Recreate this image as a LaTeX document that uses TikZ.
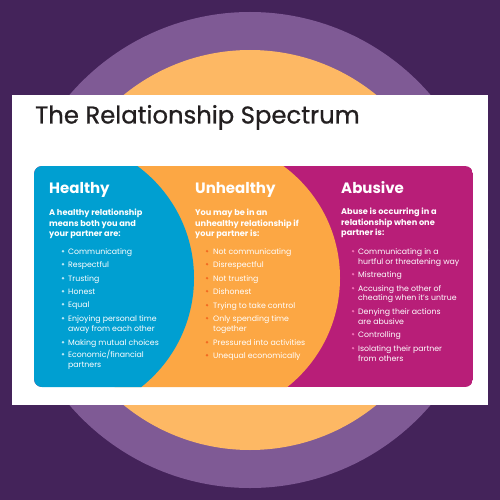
\documentclass[tikz,border=0pt]{standalone}
\usepackage{fontspec}
\setmainfont{Poppins}
\newfontfamily\titlefont[FakeBold=0.8]{Poppins}
\definecolor{bgdark}{HTML}{44235A}
\definecolor{ringpurple}{HTML}{7F5A95}
\definecolor{ringorange}{HTML}{FDB864}
\definecolor{hblue}{HTML}{009FD1}
\definecolor{uorange}{HTML}{FCA744}
\definecolor{amag}{HTML}{B81E78}
\definecolor{bhealthy}{HTML}{B8E6F6}
\definecolor{bunhealthy}{HTML}{F26A21}
\definecolor{babusive}{HTML}{F06EB4}
\definecolor{titleink}{HTML}{231F20}
\tikzset{
  heading/.style={anchor=base west, inner sep=0pt, text=white, font=\fontsize{15}{18}\selectfont\bfseries},
  lead/.style={anchor=base west, inner sep=0pt, text=white, font=\fontsize{8.2}{10}\selectfont\bfseries},
  item/.style={anchor=base west, inner sep=0pt, text=white, font=\fontsize{7.8}{10}\selectfont},
}
\begin{document}
\begin{tikzpicture}[x=1pt,y=-1pt]
\useasboundingbox (0,0) rectangle (500,500);
\fill[bgdark] (0,0) rectangle (500,500);
\fill[ringpurple] (250,250) circle[radius=238];
\fill[ringorange] (250,250) circle[radius=200];
\fill[white] (12,95) rectangle (488,405);
\node[anchor=base west, inner sep=0pt, text=titleink, font=\titlefont\fontsize{24.3}{28}\selectfont] (title) at (35,123.5) {The Relationship Spectrum};
% spectrum box
\begin{scope}
\clip[rounded corners=8pt] (34,166) rectangle (473,387);
\fill[amag] (34,166) rectangle (473,387);
\fill[uorange] (201,278) circle[radius=139];
\fill[hblue] (55,278) circle[radius=139];
\end{scope}
% Healthy
\node[heading] (hh) at (49,193) {Healthy};
\node[lead] (hl1) at (49,215.5) {A healthy relationship};
\node[lead] (hl2) at (49,226.2) {means both you and};
\node[lead] (hl3) at (49,236.9) {your partner are:};
\foreach \yy in {254,267,281,294,307,321,345,357}{\fill[bhealthy] (63,\yy-2.8) circle[radius=1.3];}
\node[item] (h1) at (68,254) {Communicating};
\node[item] (h2) at (68,267) {Respectful};
\node[item] (h3) at (68,281) {Trusting};
\node[item] (h4) at (68,294) {Honest};
\node[item] (h5) at (68,307) {Equal};
\node[item] (h6) at (68,321) {Enjoying personal time};
\node[item] (h6b) at (68,331) {away from each other};
\node[item] (h7) at (68,345) {Making mutual choices};
\node[item] (h8) at (68,357) {Economic/financial};
\node[item] (h8b) at (68,367) {partners};
% Unhealthy
\node[heading] (uh) at (195,193) {Unhealthy};
\node[lead] (ul1) at (195,215.5) {You may be in an};
\node[lead] (ul2) at (195,226.2) {unhealthy relationship if};
\node[lead] (ul3) at (195,236.9) {your partner is:};
\foreach \yy in {254,267,281,294,308,321,345,358}{\fill[bunhealthy] (207,\yy-2.8) circle[radius=1.3];}
\node[item] (u1) at (213,254) {Not communicating};
\node[item] (u2) at (213,267) {Disrespectful};
\node[item] (u3) at (213,281) {Not trusting};
\node[item] (u4) at (213,294) {Dishonest};
\node[item] (u5) at (213,308) {Trying to take control};
\node[item] (u6) at (213,321) {Only spending time};
\node[item] (u6b) at (213,331) {together};
\node[item] (u7) at (213,345) {Pressured into activities};
\node[item] (u8) at (213,358) {Unequal economically};
% Abusive
\node[heading] (ah) at (341,193) {Abusive};
\node[lead] (al1) at (341,214.5) {Abuse is occurring in a};
\node[lead] (al2) at (341,225.2) {relationship when one};
\node[lead] (al3) at (341,235.9) {partner is:};
\foreach \yy in {254,277,291,314,337,351}{\fill[babusive] (353,\yy-2.8) circle[radius=1.3];}
\node[item] (a1) at (358,254) {Communicating in a};
\node[item] (a1b) at (358,264) {hurtful or threatening way};
\node[item] (a2) at (358,277) {Mistreating};
\node[item] (a3) at (358,291) {Accusing the other of};
\node[item] (a3b) at (358,300.5) {cheating when it’s untrue};
\node[item] (a4) at (358,314) {Denying their actions};
\node[item] (a4b) at (358,324) {are abusive};
\node[item] (a5) at (358,337) {Controlling};
\node[item] (a6) at (358,351) {Isolating their partner};
\node[item] (a6b) at (358,361) {from others};
\end{tikzpicture}
\end{document}
